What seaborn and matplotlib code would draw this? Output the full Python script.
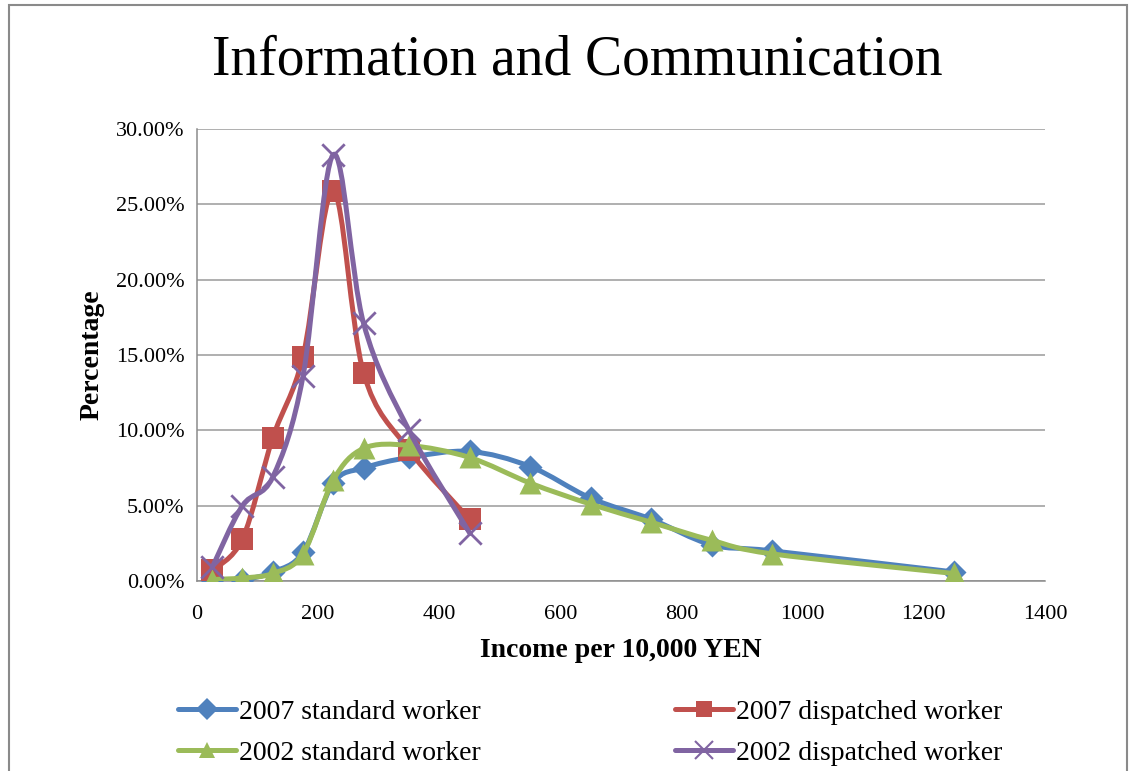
import numpy as np
import pandas as pd
import matplotlib
matplotlib.use("Agg")
import matplotlib.pyplot as plt
import seaborn as sns
from matplotlib.path import Path
from matplotlib.patches import PathPatch, Rectangle
from matplotlib.lines import Line2D
from matplotlib.ticker import PercentFormatter

# income brackets (per 10,000 yen)
income_std = [25, 75, 125, 175, 225, 275, 350, 450, 550, 650, 750, 850, 950, 1250]
income_disp = [25, 75, 125, 175, 225, 275, 350, 450]

# percentages
std_2007 = [0.1, 0.1, 0.6, 1.9, 6.5, 7.5, 8.2, 8.6, 7.6, 5.5, 4.1, 2.4, 2.0, 0.6]
disp_2007 = [0.7, 2.8, 9.5, 14.9, 25.9, 13.8, 8.7, 4.1]
std_2002 = [0.1, 0.2, 0.5, 1.8, 6.7, 8.8, 9.0, 8.2, 6.5, 5.1, 3.9, 2.7, 1.8, 0.5]
disp_2002 = [0.9, 5.0, 6.9, 13.6, 28.3, 17.1, 10.0, 3.2]

series_names = ["2007 standard worker", "2007 dispatched worker",
                "2002 standard worker", "2002 dispatched worker"]

rows = []
for name, xs, ys in zip(series_names,
                        [income_std, income_disp, income_std, income_disp],
                        [std_2007, disp_2007, std_2002, disp_2002]):
    for x, y in zip(xs, ys):
        rows.append({"series": name, "income": x, "pct": y})
df = pd.DataFrame(rows)

colors = {"2007 standard worker": "#4F81BD", "2007 dispatched worker": "#C0504D",
          "2002 standard worker": "#9BBB59", "2002 dispatched worker": "#8064A2"}
markers = {"2007 standard worker": "D", "2007 dispatched worker": "s",
           "2002 standard worker": "^", "2002 dispatched worker": "x"}
msizes = {"2007 standard worker": 150, "2007 dispatched worker": 230,
          "2002 standard worker": 250, "2002 dispatched worker": 260}

sns.set_style("white")
plt.rcParams["font.family"] = ["Liberation Serif", "DejaVu Serif"]
plt.rcParams["text.color"] = "black"
plt.rcParams["axes.labelcolor"] = "black"
plt.rcParams["xtick.color"] = "black"
plt.rcParams["ytick.color"] = "black"

fig = plt.figure(figsize=(11.35, 7.71), dpi=100)
ax = fig.add_axes([0.1736, 0.2464, 0.747, 0.5863])


def smooth_path(xs, ys):
    # excel-style smoothed line (catmull-rom as cubic bezier)
    p = np.column_stack([xs, ys]).astype(float)
    n = len(p)
    verts = [p[0]]
    codes = [Path.MOVETO]
    for i in range(n - 1):
        p0 = p[i - 1] if i > 0 else p[i]
        p3 = p[i + 2] if i + 2 < n else p[i + 1]
        c1 = p[i] + (p[i + 1] - p0) / 6
        c2 = p[i + 1] - (p3 - p[i]) / 6
        verts += [c1, c2, p[i + 1]]
        codes += [Path.CURVE4] * 3
    return Path(verts, codes)


for k, name in enumerate(series_names):
    d = df[df["series"] == name]
    patch = PathPatch(smooth_path(d["income"], d["pct"]), facecolor="none",
                      edgecolor=colors[name], lw=3.6, zorder=3 + k * 2,
                      capstyle="round", joinstyle="round")
    ax.add_patch(patch)
    if markers[name] == "x":
        sns.scatterplot(data=d, x="income", y="pct", ax=ax, marker="x",
                        color=colors[name], s=msizes[name], linewidth=2,
                        zorder=4 + k * 2, legend=False)
    else:
        sns.scatterplot(data=d, x="income", y="pct", ax=ax, marker=markers[name],
                        color=colors[name], s=msizes[name], linewidth=0,
                        zorder=4 + k * 2, legend=False)

ax.set_xlim(0, 1400)
ax.set_ylim(0, 30)
ax.set_xticks(np.arange(0, 1401, 200))
ax.set_yticks(np.arange(0, 30.1, 5))
ax.yaxis.set_major_formatter(PercentFormatter(xmax=100, decimals=2))
ax.grid(axis="y", color="#9a9a9a", lw=1.1)
ax.set_axisbelow(True)
for s in ["top", "right"]:
    ax.spines[s].set_visible(False)
for s in ["left", "bottom"]:
    ax.spines[s].set_color("#8c8c8c")
    ax.spines[s].set_linewidth(1.1)
ax.tick_params(axis="both", labelsize=16, length=0)
ax.tick_params(axis="x", pad=17)
ax.tick_params(axis="y", pad=9)

ax.set_xlabel("Income per 10,000 YEN", fontsize=20, fontweight="bold", labelpad=10)
ax.set_ylabel("Percentage", fontsize=20, fontweight="bold", labelpad=8)

fig.text(0.509, 0.922, "Information and Communication", fontsize=40,
         ha="center", va="center")

order = [series_names[0], series_names[2], series_names[1], series_names[3]]
handles = []
for name in order:
    handles.append(Line2D([], [], color=colors[name], lw=3.6, marker=markers[name],
                          markersize=11 if markers[name] != "x" else 13,
                          markeredgewidth=0 if markers[name] != "x" else 1.5,
                          markeredgecolor=colors[name]))
fig.legend(handles, order, ncol=2, loc="center", bbox_to_anchor=(0.52, 0.05),
           frameon=False, fontsize=20, handlelength=2.1, handletextpad=0.1,
           columnspacing=7.0, labelspacing=0.55)

fig.add_artist(Rectangle((0.008, -0.02), 0.985, 1.013, transform=fig.transFigure,
                         fill=False, edgecolor="#8a8a8a", lw=1.5))

fig.savefig("out.png", dpi=100)
